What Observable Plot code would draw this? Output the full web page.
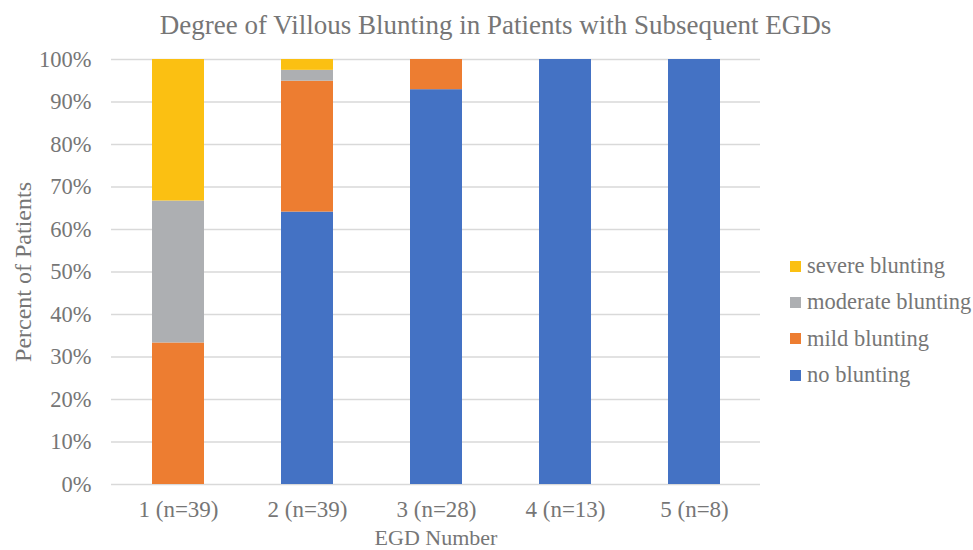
<!DOCTYPE html>
<html>
<head>
<meta charset="utf-8">
<script src="https://cdn.jsdelivr.net/npm/d3@7"></script>
<script src="https://cdn.jsdelivr.net/npm/@observablehq/plot@0.6"></script>
<style>
  html, body { margin: 0; padding: 0; background: #fff; }
  #wrap { position: relative; width: 973px; height: 550px; font-family: "Liberation Serif", "Times New Roman", serif; color: #767676; }
  #title { position: absolute; left: 0; width: 991px; top: 8px; text-align: center; font-size: 27px; line-height: 34px; color: #767676; white-space: nowrap; }
  #legend { position: absolute; left: 790px; top: 248px; font-size: 22.5px; color: #767676; }
  .li { display: flex; align-items: center; height: 36.3px; white-space: nowrap; }
  .sw { width: 11px; height: 11px; margin-right: 6px; flex: none; }
</style>
</head>
<body>
<div id="wrap">
  <div id="chart"></div>
  <div id="title">Degree of Villous Blunting in Patients with Subsequent EGDs</div>
  <div id="legend"></div>
</div>
<script>
const categories = ["1 (n=39)", "2 (n=39)", "3 (n=28)", "4 (n=13)", "5 (n=8)"];
const seriesNames = ["no blunting", "mild blunting", "moderate blunting", "severe blunting"];
const noBlunting = [0, 0.641, 0.929, 1, 1];
const mildBlunting = [0.333, 0.308, 0.071, 0, 0];
const moderateBlunting = [0.334, 0.0255, 0, 0, 0];
const severeBlunting = [0.333, 0.0255, 0, 0, 0];
const seriesColors = ["#4472C4", "#ED7D31", "#ADAFB2", "#FBC012"];
const yTicks = [0, 0.1, 0.2, 0.3, 0.4, 0.5, 0.6, 0.7, 0.8, 0.9, 1];

const seriesValues = [noBlunting, mildBlunting, moderateBlunting, severeBlunting];
const data = [];
categories.forEach((c, i) => {
  seriesNames.forEach((s, j) => {
    data.push({ cat: c, series: s, value: seriesValues[j][i] });
  });
});

const textColor = "#767676";
const chart = Plot.plot({
  width: 973,
  height: 550,
  marginLeft: 111,
  marginRight: 213,
  marginTop: 59,
  marginBottom: 66,
  style: { fontFamily: "'Liberation Serif', 'Times New Roman', serif", fontSize: "22px", color: textColor, background: "#fff" },
  x: { domain: categories, paddingInner: 0.6, paddingOuter: 0.3, label: null },
  y: { domain: [0, 1], label: null },
  color: { domain: seriesNames, range: seriesColors },
  marks: [
    Plot.ruleY(yTicks, { stroke: "#d9d9d9", strokeWidth: 1.3 }),
    Plot.barY(data, { x: "cat", y: "value", fill: "series", order: seriesNames }),
    Plot.axisY(yTicks, { tickSize: 0, tickPadding: 20, tickFormat: d3.format(".0%"), fontSize: 22.5, fill: textColor, label: null }),
    Plot.axisX({ tickSize: 0, tickPadding: 16, fontSize: 23, fill: textColor, label: null }),
    Plot.text(["Percent of Patients"], { frameAnchor: "left", textAnchor: "middle", dx: -88, rotate: -90, fontSize: 24, fill: textColor }),
    Plot.text(["EGD Number"], { frameAnchor: "bottom", dy: 60, fontSize: 22, fill: textColor })
  ]
});
document.getElementById("chart").appendChild(chart);

const legend = document.getElementById("legend");
const legendOrder = ["severe blunting", "moderate blunting", "mild blunting", "no blunting"];
legendOrder.forEach(name => {
  const row = document.createElement("div");
  row.className = "li";
  const sw = document.createElement("span");
  sw.className = "sw";
  sw.style.background = seriesColors[seriesNames.indexOf(name)];
  const t = document.createElement("span");
  t.textContent = name;
  row.appendChild(sw);
  row.appendChild(t);
  legend.appendChild(row);
});
</script>
</body>
</html>
